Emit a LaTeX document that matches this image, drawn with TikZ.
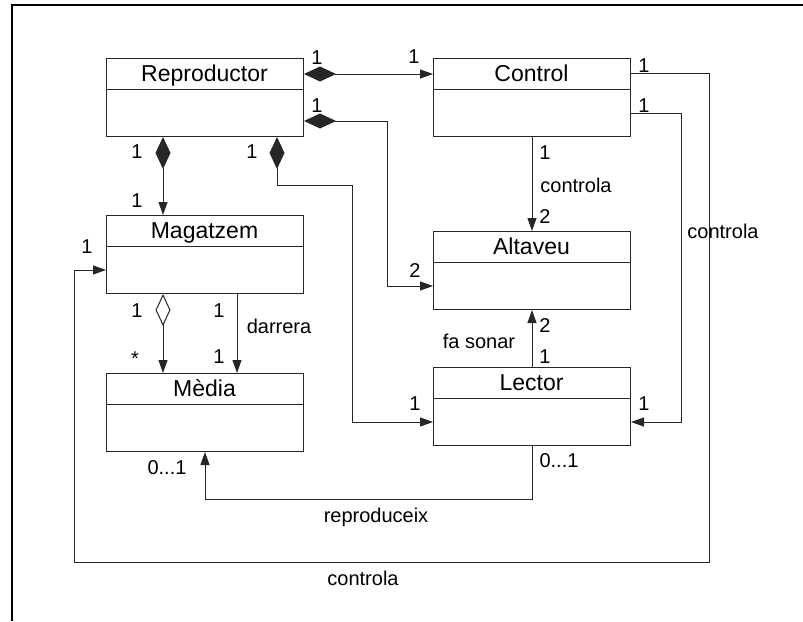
\documentclass[tikz,border=0pt]{standalone}
\usepackage{fontspec}
\setmainfont{Liberation Sans}
\usetikzlibrary{arrows.meta}
\tikzset{
  x=1pt,y=-1pt,
  box/.style={draw=black!85,line width=1pt,minimum width=197pt,minimum height=78pt,inner sep=0pt,anchor=north west},
  cname/.style={font=\fontsize{23}{23}\selectfont,inner sep=0pt,anchor=base},
  lbl/.style={font=\fontsize{20}{20}\selectfont,inner sep=0pt,anchor=base},
  conn/.style={draw=black!85,line width=1pt},
  arr/.style={conn,-{Triangle[length=13pt,width=9pt]}},
  comp/.style={conn,{Diamond[length=32pt,width=15pt]}-{Triangle[length=13pt,width=9pt]}},
  aggr/.style={conn,{Diamond[open,fill=white,length=32pt,width=15pt]}-{Triangle[length=13pt,width=9pt]}},
}
\newcommand\umlcls[4]{%
  \node[box] (#1) at (#2,#3) {};
  \node[cname] (#1-t) at (#2+98.5,#3+23) {#4};
  \draw[draw=black!85,line width=1pt] ([yshift=-31pt]#1.north west) -- ([yshift=-31pt]#1.north east);
}
\begin{document}
\begin{tikzpicture}
\useasboundingbox (0,0) rectangle (803,621);
\draw[line width=1.3pt] (12,621) coordinate (f1) -- (12,5) coordinate (f2) -- (803,5) coordinate (f3);

\umlcls{rep}{106}{58}{Reproductor}
\umlcls{ctl}{433}{58}{Control}
\umlcls{mag}{106}{215}{Magatzem}
\umlcls{alt}{433}{231}{Altaveu}
\umlcls{med}{106}{373}{Mèdia}
\umlcls{lec}{433}{367}{Lector}

\coordinate (j1) at (352,185);
\coordinate (j2) at (709,562);
\coordinate (j3) at (74,270);
\coordinate (j4) at (205,499);

% Reproductor -> Control
\draw[comp] ([yshift=-16pt]rep.north east) -- ([yshift=-16pt]ctl.north west);
% Reproductor -> Altaveu
\draw[comp] ([yshift=-63pt]rep.north east) -- ++(83,0) |- ([yshift=-55pt]alt.north west);
% Reproductor -> Magatzem
\draw[comp] ([xshift=57pt]rep.south west) -- ([xshift=57pt]mag.north west);
% Reproductor -> Lector
\draw[comp] ([xshift=171pt]rep.south west) |- (j1) |- ([yshift=-55pt]lec.north west);
% Control -> Altaveu
\draw[arr] (ctl.south) -- (alt.north);
% Control -> Magatzem
\draw[arr] ([yshift=-15pt]ctl.north east) -| (j2) -| (j3) -- (j3 -| mag.west);
% Control -> Lector
\draw[arr] ([yshift=-55pt]ctl.north east) -- ++(50,0) |- ([yshift=-55pt]lec.north east);
% Magatzem -> Mèdia (aggregation)
\draw[aggr] ([xshift=57pt]mag.south west) -- ([xshift=57pt]med.north west);
% Magatzem -> Mèdia (darrera)
\draw[arr] ([xshift=131pt]mag.south west) -- ([xshift=131pt]med.north west);
% Lector -> Altaveu
\draw[arr] (lec.north) -- (alt.south);
% Lector -> Mèdia
\draw[arr] (lec.south) |- (j4) -- ([xshift=99pt]med.south west);

% labels
\node[lbl] (a1) at (317,64) {1};
\node[lbl] (a2) at (414,63) {1};
\node[lbl] (a3) at (317,112) {1};
\node[lbl] (a4) at (415,277) {2};
\node[lbl] (a5) at (137,158) {1};
\node[lbl] (a6) at (137,207) {1};
\node[lbl] (a7) at (252,158) {1};
\node[lbl] (a8) at (415,410) {1};
\node[lbl] (a9) at (545,159) {1};
\node[lbl] (a10) at (576,192) {controla};
\node[lbl] (a11) at (545,223) {2};
\node[lbl] (a12) at (644,72) {1};
\node[lbl] (a13) at (87,253) {1};
\node[lbl] (a14) at (363,585) {controla};
\node[lbl] (a15) at (644,112) {1};
\node[lbl] (a16) at (644,410) {1};
\node[lbl] (a17) at (723,238) {controla};
\node[lbl] (a18) at (137,317) {1};
\node[lbl] (a19) at (135,365) {*};
\node[lbl] (a20) at (219,317) {1};
\node[lbl] (a21) at (279,333) {darrera};
\node[lbl] (a22) at (219,363) {1};
\node[lbl] (a23) at (545,332) {2};
\node[lbl] (a24) at (479,348) {fa sonar};
\node[lbl] (a25) at (545,363) {1};
\node[lbl] (a26) at (559,467) {0...1};
\node[lbl] (a27) at (167,474) {0...1};
\node[lbl] (a28) at (376,522) {reproduceix};
\end{tikzpicture}
\end{document}
